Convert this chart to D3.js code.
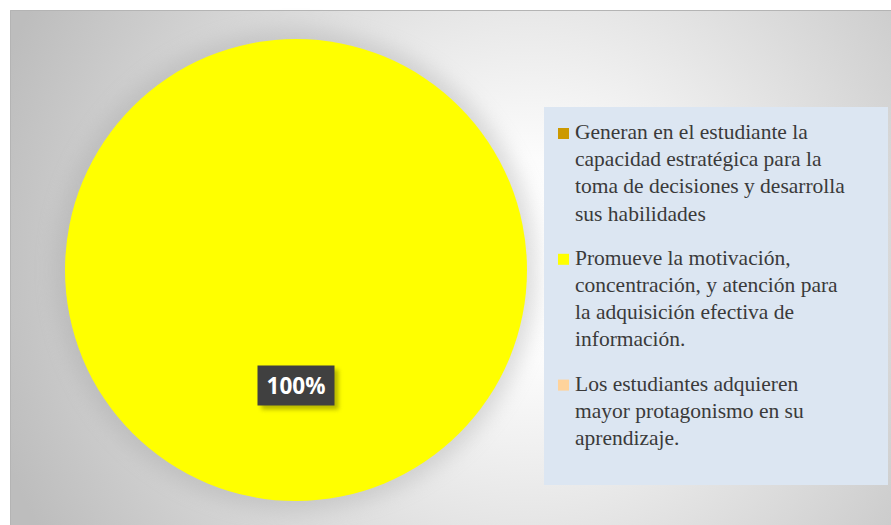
<!DOCTYPE html>
<html>
<head>
<meta charset="utf-8">
<script src="https://cdn.jsdelivr.net/npm/d3@7"></script>
<style>
  html, body { margin: 0; padding: 0; background: #ffffff; }
  svg { display: block; }
</style>
</head>
<body>
<svg id="chart" width="891" height="525"></svg>
<script>
// Categories (legend entries, pre-broken into lines) and their shares
const categories = [
  "Generan en el estudiante la capacidad estratégica para la toma de decisiones y desarrolla sus habilidades",
  "Promueve la motivación, concentración, y atención para la adquisición efectiva de información.",
  "Los estudiantes adquieren mayor protagonismo en su aprendizaje."
];
const categoryLines = [
  ["Generan en el estudiante la", "capacidad estratégica para la", "toma de decisiones y desarrolla", "sus habilidades"],
  ["Promueve la motivación,", "concentración, y atención para", "la adquisición efectiva de", "información."],
  ["Los estudiantes adquieren", "mayor protagonismo en su", "aprendizaje."]
];
const values = [0, 100, 0];
const colors = ["#CC9900", "#FFFF00", "#FFD39B"];

const W = 891, H = 525;
const svg = d3.select("#chart");
const defs = svg.append("defs");

// Background gradient of the chart area
const bg = defs.append("radialGradient")
  .attr("id", "bgGrad")
  .attr("gradientUnits", "userSpaceOnUse")
  .attr("cx", 530).attr("cy", 260).attr("r", 560);
bg.append("stop").attr("offset", "0%").attr("stop-color", "#ffffff");
bg.append("stop").attr("offset", "18%").attr("stop-color", "#fcfcfc");
bg.append("stop").attr("offset", "100%").attr("stop-color", "#bdbdbd");

// Soft shadow around the pie
const pieShadow = defs.append("filter").attr("id", "pieShadow")
  .attr("x", "-30%").attr("y", "-30%").attr("width", "160%").attr("height", "160%");
pieShadow.append("feGaussianBlur").attr("stdDeviation", 10);

// Shadow under the data label
const lblShadow = defs.append("filter").attr("id", "lblShadow")
  .attr("x", "-30%").attr("y", "-30%").attr("width", "160%").attr("height", "160%");
lblShadow.append("feGaussianBlur").attr("stdDeviation", 2);

// Chart area
svg.append("rect")
  .attr("x", 10).attr("y", 10).attr("width", W - 10).attr("height", H - 10)
  .attr("fill", "url(#bgGrad)");
svg.append("path")
  .attr("d", `M10.5,${H} V10.5 H${W}`)
  .attr("fill", "none")
  .attr("stroke", "#b4b4b4").attr("stroke-width", 1);

// Pie
const cx = 296, cy = 270, r = 231;
const pie = d3.pie().sort(null).value(d => d)(values);
const arc = d3.arc().innerRadius(0).outerRadius(r);

const g = svg.append("g").attr("transform", `translate(${cx},${cy})`);

g.append("circle")
  .attr("cx", 0).attr("cy", 0).attr("r", r + 10)
  .attr("fill", "#a0a0a0").attr("opacity", 0.35)
  .attr("filter", "url(#pieShadow)");

g.selectAll("path.slice")
  .data(pie)
  .join("path")
  .attr("class", "slice")
  .attr("d", arc)
  .attr("fill", (d, i) => colors[i]);

// Data labels for non-empty slices
const labelData = pie.filter(d => d.value > 0);
const total = d3.sum(values);
const lbl = g.selectAll("g.lbl")
  .data(labelData)
  .join("g")
  .attr("class", "lbl")
  .attr("transform", d => `translate(${arc.centroid(d)})`);

const bw = 77, bh = 40;
lbl.append("rect")
  .attr("x", -bw / 2 + 4).attr("y", -bh / 2 + 4)
  .attr("width", bw).attr("height", bh)
  .attr("fill", "#8a8a00").attr("opacity", 0.6)
  .attr("filter", "url(#lblShadow)");
lbl.append("rect")
  .attr("x", -bw / 2).attr("y", -bh / 2)
  .attr("width", bw).attr("height", bh)
  .attr("fill", "#404040");
lbl.append("text")
  .attr("text-anchor", "middle")
  .attr("dy", "0.36em")
  .attr("fill", "#ffffff")
  .attr("font-family", "'Open Sans', 'Liberation Sans', sans-serif")
  .attr("font-weight", "bold")
  .attr("font-size", 22.5)
  .text(d => d3.format(".0%")(d.value / total));

// Legend
svg.append("rect")
  .attr("x", 544).attr("y", 107).attr("width", 344).attr("height", 378)
  .attr("fill", "#DCE6F2");

const lineH = 27.2, itemGap = 17;
const leg = svg.append("g");
let y0 = 139;
categoryLines.forEach((lines, i) => {
  leg.append("rect")
    .attr("x", 558).attr("y", y0 - 11).attr("width", 11).attr("height", 11)
    .attr("fill", colors[i]);
  const t = leg.append("text")
    .attr("x", 575).attr("y", y0)
    .attr("fill", "#3a3a3a")
    .attr("font-family", "'Liberation Serif', 'Times New Roman', serif")
    .attr("font-size", 21.5);
  lines.forEach((ln, j) => {
    t.append("tspan").attr("x", 575).attr("y", y0 + j * lineH).text(ln);
  });
  y0 += lines.length * lineH + itemGap;
});
</script>
</body>
</html>
